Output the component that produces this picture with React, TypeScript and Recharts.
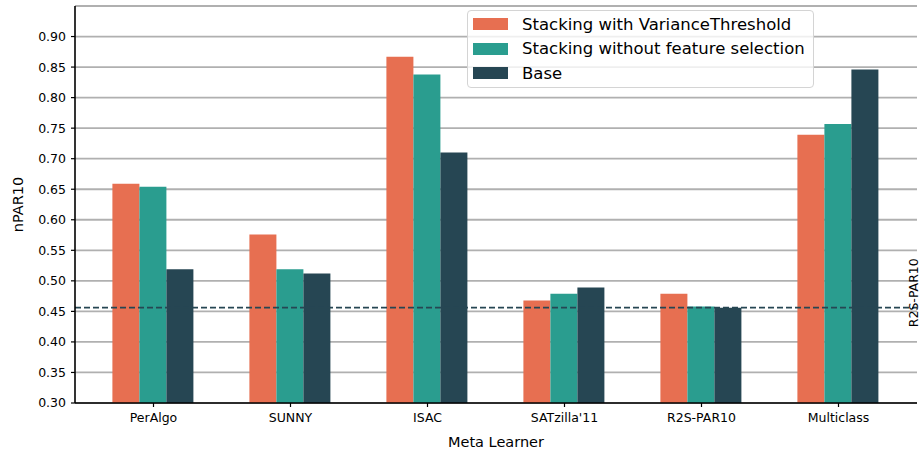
import React from 'react'
import {
  BarChart,
  Bar,
  XAxis,
  YAxis,
  CartesianGrid,
  ReferenceLine,
  Legend,
} from 'recharts'

const learners = ['PerAlgo', 'SUNNY', 'ISAC', "SATzilla'11", 'R2S-PAR10', 'Multiclass']
const withVarianceThreshold = [0.659, 0.576, 0.867, 0.468, 0.479, 0.739]
const withoutSelection = [0.654, 0.519, 0.838, 0.479, 0.458, 0.757]
const baseScores = [0.519, 0.512, 0.71, 0.489, 0.456, 0.846]
const r2sPar10 = 0.456
const yTicks = [0.3, 0.35, 0.4, 0.45, 0.5, 0.55, 0.6, 0.65, 0.7, 0.75, 0.8, 0.85, 0.9]

const seriesNames = [
  'Stacking with VarianceThreshold',
  'Stacking without feature selection',
  'Base',
]
const seriesColors = ['#e76f51', '#2a9d8f', '#264653']

const data = learners.map((name, i) => ({
  name,
  vt: withVarianceThreshold[i],
  nofs: withoutSelection[i],
  base: baseScores[i],
}))
const seriesKeys = ['vt', 'nofs', 'base']

const FONT = '"DejaVu Sans", sans-serif'

// legend box drawn like matplotlib's (upper right, framed)
const renderLegend = () => (
  <div
    style={{
      width: 347,
      height: 78,
      boxSizing: 'border-box',
      border: '1px solid #d4d4d4',
      borderRadius: 4,
      background: 'rgba(255,255,255,0.8)',
      padding: '1px 0 0 5px',
      fontFamily: FONT,
      fontSize: 16.5,
      color: '#000',
    }}
  >
    {seriesNames.map((n, i) => (
      <div key={n} style={{ display: 'flex', alignItems: 'center', height: 24.5 }}>
        <span
          style={{
            display: 'inline-block',
            width: 35,
            height: 12,
            background: seriesColors[i],
            marginRight: 14,
          }}
        />
        <span>{n}</span>
      </div>
    ))}
  </div>
)

const refLabel = (props: any) => {
  const vb = props.viewBox || {}
  const x = (vb.x ?? 0) + (vb.width ?? 0) - 3
  const y = (vb.y ?? 0) - 15
  return (
    <text
      x={x}
      y={y}
      transform={`rotate(-90 ${x} ${y})`}
      textAnchor="middle"
      dominantBaseline="central"
      fontSize={12.5}
      fontFamily={FONT}
      fill="#000"
    >
      R2S-PAR10
    </text>
  )
}

export default function App() {
  return (
    <div style={{ width: 920, height: 452, fontFamily: FONT }}>
      <style>{'body{margin:0}'}</style>
      <BarChart
        width={920}
        height={452}
        data={data}
        margin={{ top: 6, right: 3, bottom: 0, left: 0 }}
        barCategoryGap="20%"
        barGap={0}
      >
        <CartesianGrid vertical={false} stroke="#b0b0b0" strokeWidth={1.8} />
        <XAxis
          dataKey="name"
          height={49}
          padding={{ left: 10, right: 10 }}
          axisLine={{ stroke: '#000', strokeWidth: 1.6 }}
          tickLine={{ stroke: '#000', strokeWidth: 1.2 }}
          tickSize={4}
          tickMargin={6}
          tick={{ fill: '#000', fontSize: 12.5, fontFamily: FONT }}
          interval={0}
          label={{
            value: 'Meta Learner',
            position: 'insideBottom',
            offset: 5,
            fill: '#000',
            fontSize: 14.5,
            fontFamily: FONT,
          }}
        />
        <XAxis
          xAxisId="top"
          orientation="top"
          dataKey="name"
          height={0}
          tick={false}
          tickLine={false}
          axisLine={{ stroke: '#000', strokeWidth: 1.6 }}
        />
        <YAxis
          width={75}
          domain={[0.3, 0.95]}
          ticks={yTicks}
          allowDataOverflow
          tickFormatter={(v: number) => v.toFixed(2)}
          axisLine={{ stroke: '#000', strokeWidth: 1.6 }}
          tickLine={{ stroke: '#000', strokeWidth: 1.2 }}
          tickSize={4}
          tickMargin={5}
          tick={{ fill: '#000', fontSize: 12.5, fontFamily: FONT }}
          label={{
            value: 'nPAR10',
            angle: -90,
            position: 'center',
            dx: -20,
            fill: '#000',
            fontSize: 14.5,
            fontFamily: FONT,
          }}
        />
        <YAxis
          yAxisId="right"
          orientation="right"
          width={0}
          domain={[0.3, 0.95]}
          tick={false}
          tickLine={false}
          axisLine={{ stroke: '#000', strokeWidth: 1.6 }}
        />
        {seriesKeys.map((k, i) => (
          <Bar
            key={k}
            dataKey={k}
            name={seriesNames[i]}
            fill={seriesColors[i]}
            isAnimationActive={false}
          />
        ))}
        <ReferenceLine
          y={r2sPar10}
          stroke="#264653"
          strokeWidth={1.8}
          strokeDasharray="6 3"
          label={refLabel}
        />
        <Legend
          layout="vertical"
          align="center"
          verticalAlign="middle"
          content={renderLegend}
          wrapperStyle={{ left: 467, top: 10, width: 347 }}
        />
      </BarChart>
    </div>
  )
}
